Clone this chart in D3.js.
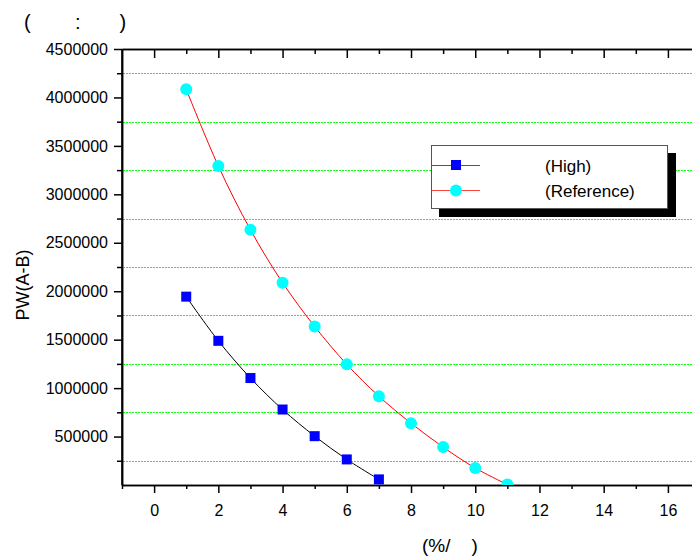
<!DOCTYPE html>
<html>
<head>
<meta charset="utf-8">
<script src="https://cdn.jsdelivr.net/npm/d3@7"></script>
<style>
  html, body { margin: 0; padding: 0; background: #fff; }
  text { font-family: "Liberation Sans", Arial, sans-serif; fill: #000; white-space: pre; }
</style>
</head>
<body>
<svg id="chart" width="692" height="559"></svg>
<script>
// ---- data ----
const xHigh = [1, 2, 3, 4, 5, 6, 7];
const yHigh = [1944000, 1488000, 1104000, 779000, 504000, 264000, 58000];
const xRef = [1, 2, 3, 4, 5, 6, 7, 8, 9, 10, 11];
const yRef = [4084000, 3292000, 2634000, 2088000, 1636000, 1245000, 916000, 638000, 391000, 175000, 5000];
const xMajorTicks = [0, 2, 4, 6, 8, 10, 12, 14, 16];
const xMinorTicks = [-1, 1, 3, 5, 7, 9, 11, 13, 15];
const yMajorTicks = [500000, 1000000, 1500000, 2000000, 2500000, 3000000, 3500000, 4000000, 4500000];
const yMinorTicks = [250000, 750000, 1250000, 1750000, 2250000, 2750000, 3250000, 3750000, 4250000];
const seriesNames = ["(High)", "(Reference)"];
const titleText = "(        :       )";
const xLabel = "(%/    )";
const yLabel = "PW(A-B)";

// ---- layout ----
const L = 122, R = 692, T = 49, B = 485;
const svg = d3.select("#chart");
const x = d3.scaleLinear().domain([-1, 16.75]).range([L, R]);
const y = d3.scaleLinear().domain([0, 4500000]).range([B, T]);

svg.append("defs").append("clipPath").attr("id", "plotclip")
  .append("rect").attr("x", L).attr("y", T).attr("width", R - L).attr("height", B - T);

// grid lines (at minor y positions)
svg.append("g").selectAll("line").data(yMinorTicks).join("line")
  .attr("x1", L + 1).attr("x2", R).attr("y1", d => Math.round(y(d)) + 0.5).attr("y2", d => Math.round(y(d)) + 0.5)
  .attr("stroke", "#11ff11").attr("stroke-width", 1).attr("stroke-dasharray", "2,1")
  .attr("shape-rendering", "crispEdges");

function styleAxis(g) {
  g.selectAll("path, line").attr("stroke", "#000").attr("stroke-width", 1.5);
  g.selectAll("text").style("font-size", "16px").style("font-family", "Liberation Sans, Arial, sans-serif");
}

// bottom axis
svg.append("g").attr("transform", `translate(0,${B})`)
  .call(d3.axisBottom(x).tickValues(xMajorTicks).tickSize(8).tickSizeOuter(0).tickPadding(12).tickFormat(d3.format("d")))
  .call(styleAxis);
svg.append("g").attr("transform", `translate(0,${B})`)
  .call(d3.axisBottom(x).tickValues(xMinorTicks).tickSize(4).tickSizeOuter(0).tickFormat(""))
  .call(styleAxis);

// top axis (ticks inward)
svg.append("g").attr("transform", `translate(0,${T})`)
  .call(d3.axisBottom(x).tickValues(xMajorTicks).tickSize(9).tickSizeOuter(0).tickFormat(""))
  .call(styleAxis);
svg.append("g").attr("transform", `translate(0,${T})`)
  .call(d3.axisBottom(x).tickValues(xMinorTicks.filter(d => d > -1)).tickSize(5).tickSizeOuter(0).tickFormat(""))
  .call(styleAxis);

// left axis
svg.append("g").attr("transform", `translate(${L},0)`)
  .call(d3.axisLeft(y).tickValues(yMajorTicks).tickSize(8).tickSizeOuter(0).tickPadding(6).tickFormat(d3.format("d")))
  .call(styleAxis);
svg.append("g").attr("transform", `translate(${L},0)`)
  .call(d3.axisLeft(y).tickValues(yMinorTicks).tickSize(5).tickSizeOuter(0).tickFormat(""))
  .call(styleAxis);
svg.append("line").attr("x1", L).attr("x2", L).attr("y1", T).attr("y2", B)
  .attr("stroke", "#000").attr("stroke-width", 1.5);

// lines
const plot = svg.append("g").attr("clip-path", "url(#plotclip)");
const highData = xHigh.map((v, i) => [v, yHigh[i]]);
const refData = xRef.map((v, i) => [v, yRef[i]]);
const line = d3.line().x(d => x(d[0])).y(d => y(d[1])).curve(d3.curveCatmullRom);

plot.append("path").datum(refData).attr("d", line)
  .attr("fill", "none").attr("stroke", "#ff0000").attr("stroke-width", 1);
plot.append("path").datum(highData).attr("d", line)
  .attr("fill", "none").attr("stroke", "#000").attr("stroke-width", 1);

// markers
plot.append("g").selectAll("circle").data(refData).join("circle")
  .attr("cx", d => x(d[0])).attr("cy", d => y(d[1])).attr("r", 6)
  .attr("fill", "#00ffff");
plot.append("g").selectAll("rect").data(highData).join("rect")
  .attr("x", d => x(d[0]) - 5).attr("y", d => y(d[1]) - 5).attr("width", 10).attr("height", 10)
  .attr("fill", "#0000ff");

// legend
const lg = svg.append("g");
lg.append("rect").attr("x", 439).attr("y", 153).attr("width", 237).attr("height", 64).attr("fill", "#000");
lg.append("rect").attr("x", 431.5).attr("y", 145.5).attr("width", 236).attr("height", 63)
  .attr("fill", "#fff").attr("stroke", "#555").attr("stroke-width", 1);
lg.append("line").attr("x1", 432).attr("x2", 480).attr("y1", 165.5).attr("y2", 165.5).attr("stroke", "#555").attr("stroke-width", 1);
lg.append("rect").attr("x", 451).attr("y", 160).attr("width", 10).attr("height", 10).attr("fill", "#0000ff");
lg.append("line").attr("x1", 432).attr("x2", 480).attr("y1", 190.5).attr("y2", 190.5).attr("stroke", "#ff4444").attr("stroke-width", 1);
lg.append("circle").attr("cx", 456).attr("cy", 190.5).attr("r", 6).attr("fill", "#00ffff");
lg.selectAll("text").data(seriesNames).join("text")
  .attr("x", 545).attr("y", (d, i) => 172 + i * 25).style("font-size", "17px").text(d => d);

// titles
svg.append("text").attr("x", 24).attr("y", 29).style("font-size", "20px").text(titleText);
svg.append("text").attr("x", 422).attr("y", 552).style("font-size", "19px").text(xLabel);
svg.append("text").attr("transform", "translate(29,285) rotate(-90)").attr("text-anchor", "middle")
  .style("font-size", "18px").text(yLabel);
</script>
</body>
</html>
